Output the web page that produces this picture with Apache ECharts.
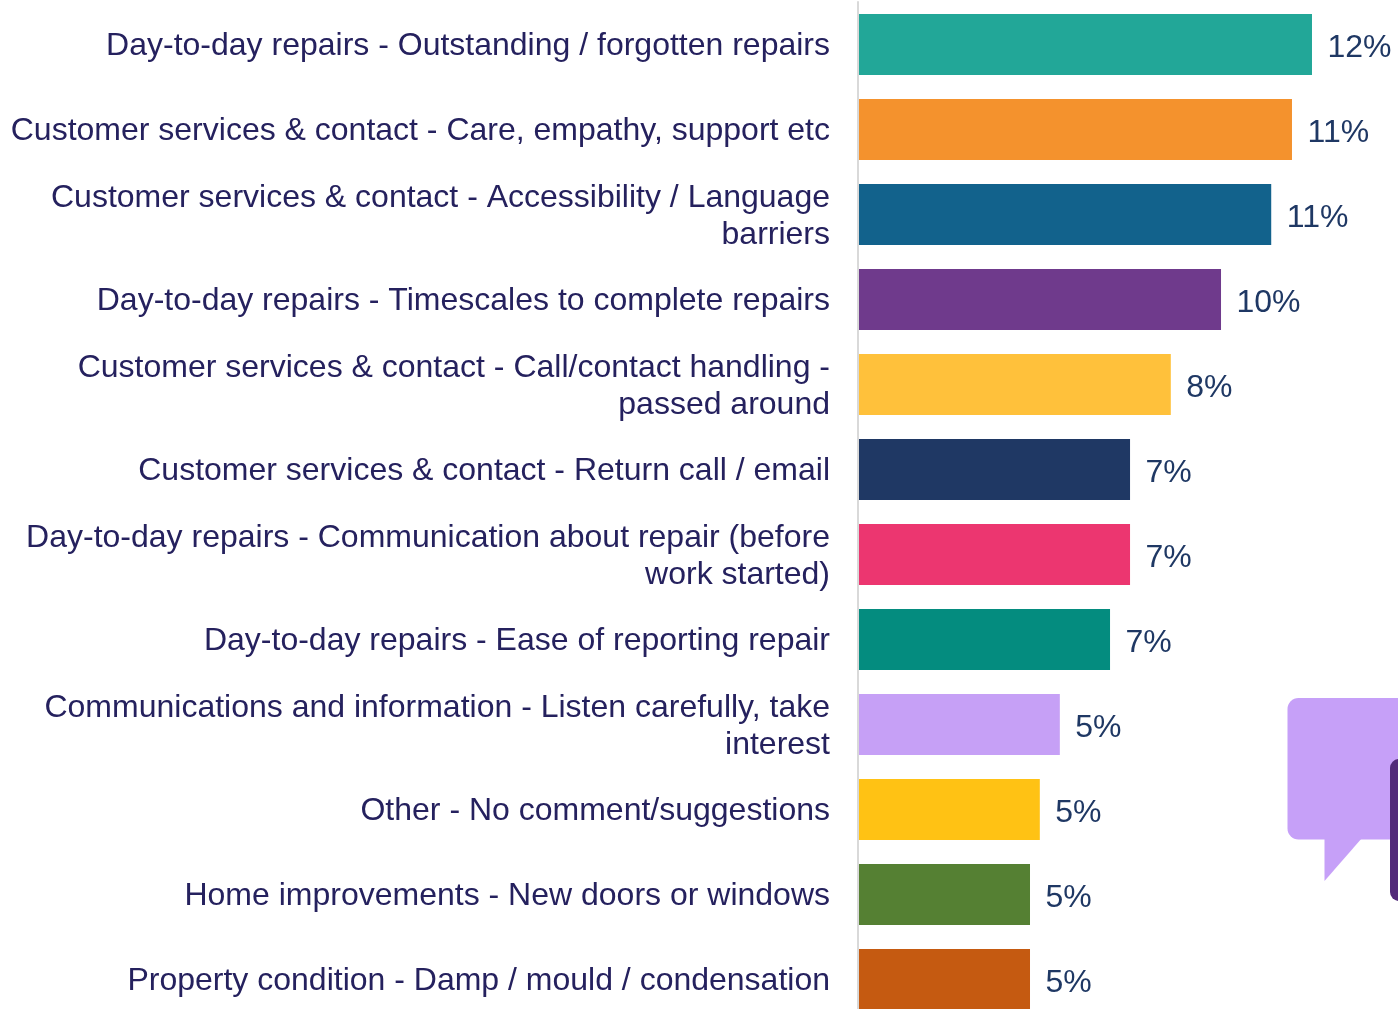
<!DOCTYPE html>
<html>
<head>
<meta charset="utf-8">
<style>html,body{margin:0;padding:0;background:#fff;overflow:hidden}#c{width:1398px;height:1009px}</style>
<script src="https://cdn.jsdelivr.net/npm/echarts@6/dist/echarts.min.js"></script>
</head>
<body>
<div id="c"></div>
<script>
const categories = [
  "Day-to-day repairs - Outstanding / forgotten repairs",
  "Customer services & contact - Care, empathy, support etc",
  "Customer services & contact - Accessibility / Language\nbarriers",
  "Day-to-day repairs - Timescales to complete repairs",
  "Customer services & contact - Call/contact handling -\npassed around",
  "Customer services & contact - Return call / email",
  "Day-to-day repairs - Communication about repair (before\nwork started)",
  "Day-to-day repairs - Ease of reporting repair",
  "Communications and information - Listen carefully, take\ninterest",
  "Other - No comment/suggestions",
  "Home improvements - New doors or windows",
  "Property condition - Damp / mould / condensation"
];
const values = [12.0, 11.47, 10.92, 9.59, 8.26, 7.18, 7.18, 6.65, 5.32, 4.79, 4.53, 4.53];
const colors = ["#22A798","#F4922D","#12628C","#6F3A8C","#FFC13B","#1F3864","#EC3670","#048C7F","#C6A0F6","#FFC214","#558033","#C55A11"];
const chart = echarts.init(document.getElementById('c'), null, {renderer:'canvas'});
chart.setOption({
  animation:false,
  backgroundColor:'#ffffff',
  grid:{left:859,top:2,width:530,height:1020,containLabel:false,outerBoundsMode:'none'},
  xAxis:{type:'value',min:0,max:14.04,show:false},
  yAxis:{type:'category',inverse:true,data:categories,offset:1,
    axisLine:{show:true,onZero:false,lineStyle:{color:'#D9D9D9',width:2}},
    axisTick:{show:false},
    axisLabel:{margin:28,interval:0,align:'right',
      formatter:v=>v.split('\n').map(s=>'{a|'+s+'}').join('\n'),
      rich:{a:{padding:[4,0,0,0],color:'#25215E',fontFamily:'"Liberation Sans",Arial,sans-serif',fontSize:32,lineHeight:37}},
      color:'#25215E',fontFamily:'"Liberation Sans",Arial,sans-serif',fontSize:32}
  },
  series:[{type:'bar',barWidth:61,clip:false,
    data:values.map((v,i)=>({value:v,itemStyle:{color:colors[i]}})),
    label:{show:true,position:'right',distance:15.5,offset:[0,4],color:'#1F3864',fontFamily:'"Liberation Sans",Arial,sans-serif',fontSize:32,
      formatter:p=>Math.round(p.value)+'%'}
  }],
  graphic:[
    {type:'rect',silent:true,z:10,shape:{x:1287.5,y:698,width:140,height:141.5,r:11},style:{fill:'#C6A0F8'}},
    {type:'polygon',silent:true,z:10,shape:{points:[[1324.5,838],[1362,838],[1324.5,881]]},style:{fill:'#C6A0F8'}},
    {type:'rect',silent:true,z:11,shape:{x:1390,y:759,width:30,height:142,r:9},style:{fill:'#522A7A'}}
  ]
});
</script>
</body>
</html>
